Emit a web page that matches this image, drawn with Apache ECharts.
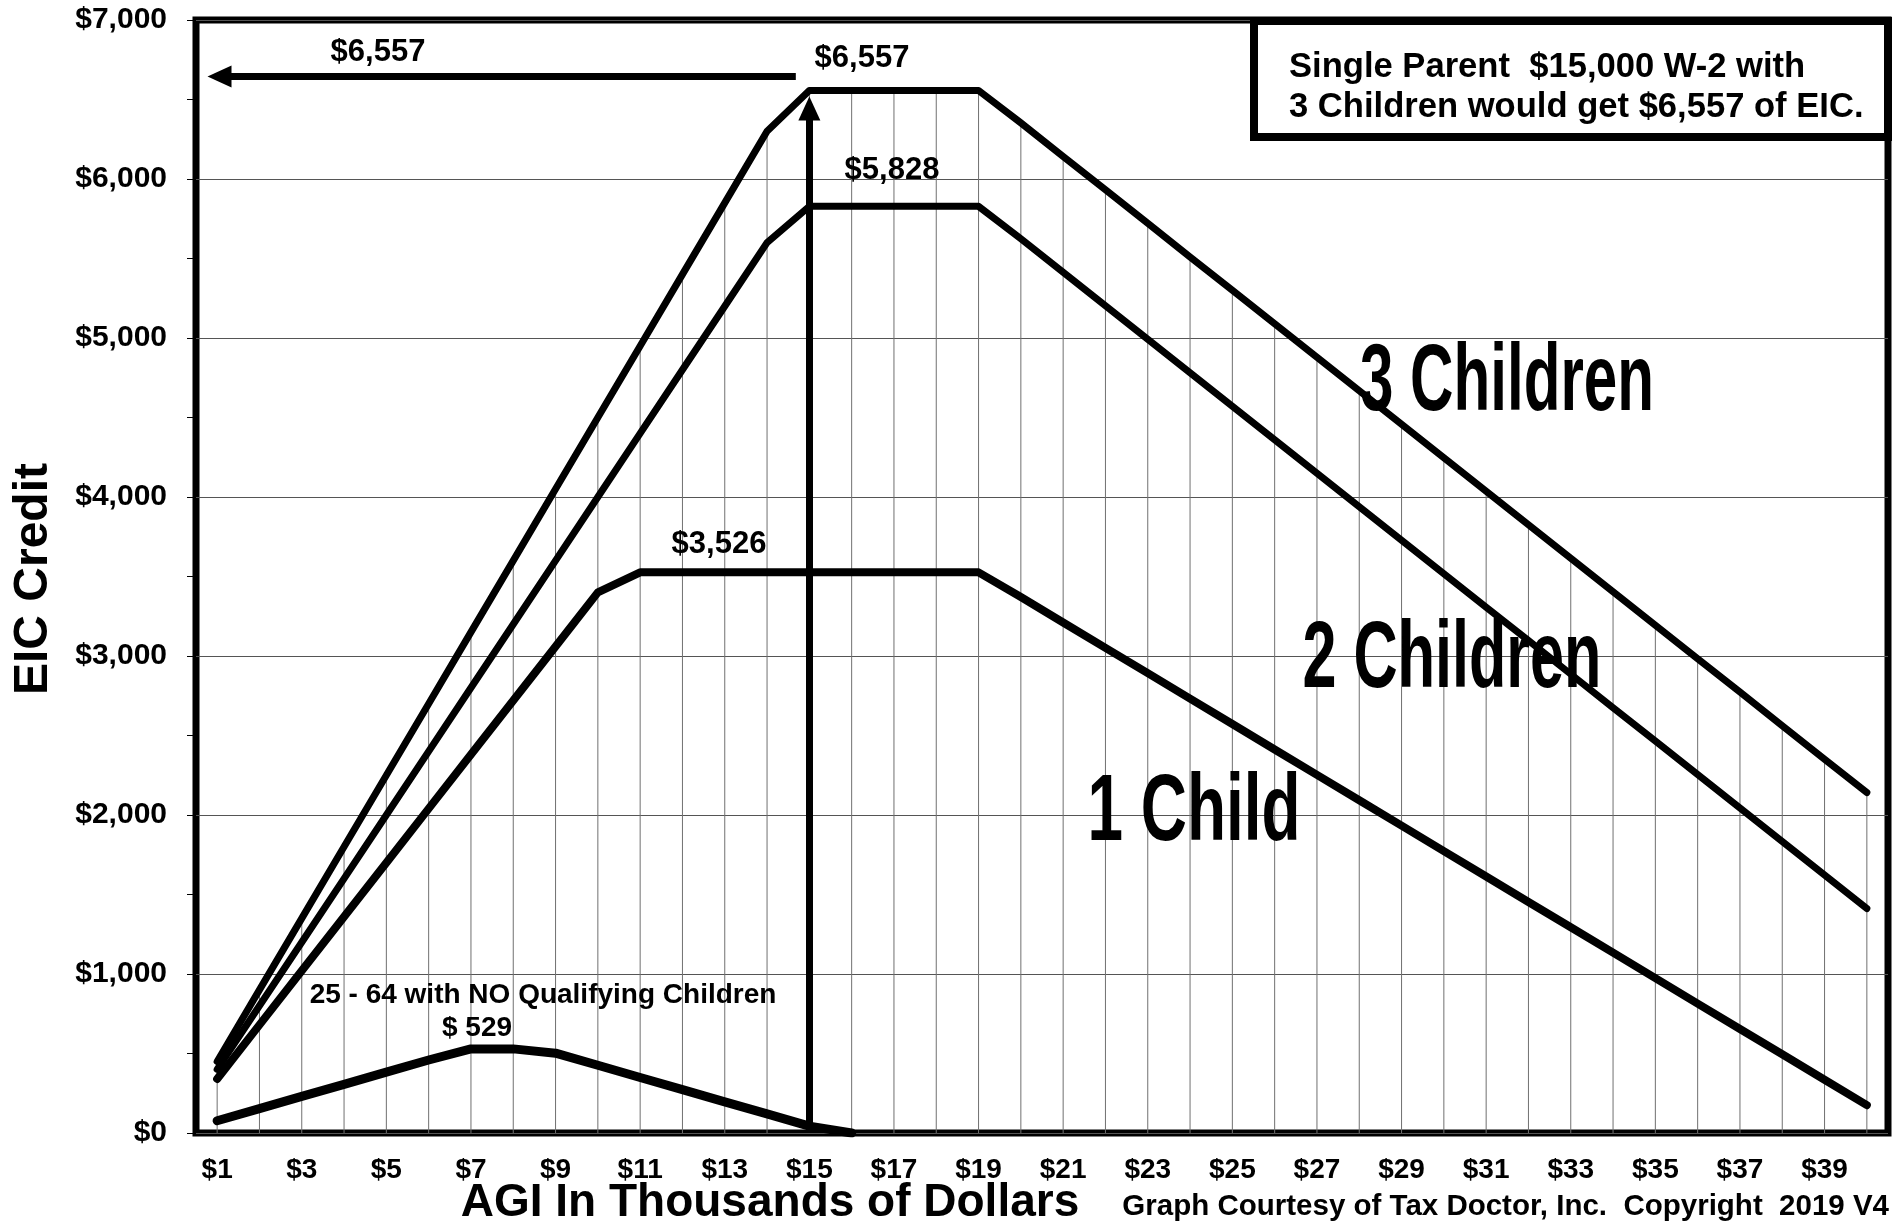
<!DOCTYPE html>
<html>
<head>
<meta charset="utf-8">
<title>EIC Credit</title>
<script src="https://cdn.jsdelivr.net/npm/echarts@6/dist/echarts.min.js"></script>
<style>
  html, body { margin: 0; padding: 0; background: #fff; }
  #eic { width: 1902px; height: 1221px; }
</style>
</head>
<body>
<div id="eic"></div>
<script>
// AGI in thousands of dollars
var agi = [1, 2, 3, 4, 5, 6, 7, 8, 9, 10, 11, 12, 13, 14, 15, 16, 17, 18, 19, 20,
  21, 22, 23, 24, 25, 26, 27, 28, 29, 30, 31, 32, 33, 34, 35, 36, 37, 38, 39, 40]
var xLabelValues = [1, 3, 5, 7, 9, 11, 13, 15, 17, 19, 21, 23, 25, 27, 29, 31, 33, 35, 37, 39]

// EIC credit per AGI point
var threeKids = [450, 900, 1350, 1800, 2250, 2700, 3150, 3600, 4050, 4500,
  4950, 5400, 5850, 6300, 6557, 6557, 6557, 6557, 6557, 6353,
  6142, 5932, 5721, 5510, 5300, 5089, 4879, 4668, 4457, 4247,
  4036, 3826, 3615, 3404, 3194, 2983, 2773, 2562, 2351, 2141]
var twoKids = [400, 800, 1200, 1600, 2000, 2400, 2800, 3200, 3600, 4000,
  4400, 4800, 5200, 5600, 5828, 5828, 5828, 5828, 5828, 5624,
  5413, 5203, 4992, 4781, 4571, 4360, 4150, 3939, 3728, 3518,
  3307, 3097, 2886, 2675, 2465, 2254, 2044, 1833, 1622, 1412]
var oneKid = [340, 680, 1020, 1360, 1700, 2040, 2380, 2720, 3060, 3400,
  3526, 3526, 3526, 3526, 3526, 3526, 3526, 3526, 3526, 3371,
  3211, 3051, 2892, 2732, 2572, 2412, 2252, 2093, 1933, 1773,
  1613, 1453, 1294, 1134, 974, 814, 654, 495, 335, 175]
var noKids = [77, 153, 230, 306, 383, 459, 529, 529, 502, 426,
  349, 273, 196, 120, 43, 0]

var FONT = 'Liberation Sans, Arial, sans-serif'

function pairs(arr) {
  var out = []
  arr.forEach(function (v, i) {
    out.push([agi[i], v])
  })
  return out
}

function txt(text, x, y, size, align, extra) {
  var el = {
    type: 'text',
    x: x,
    y: y,
    z: 100,
    style: {
      text: text,
      fill: '#000',
      font: 'bold ' + size + 'px ' + FONT,
      textAlign: align || 'center',
      textVerticalAlign: 'middle'
    }
  }
  if (extra) {
    for (var k in extra) el[k] = extra[k]
  }
  return el
}

var myChart = echarts.init(document.getElementById('eic'))

var lineBase = {
  type: 'line',
  showSymbol: false,
  symbol: 'none',
  silent: true
}

var option = {
  animation: false,
  backgroundColor: '#fff',
  grid: {
    left: 196,
    top: 20,
    right: 14,
    bottom: 88,
    show: true,
    borderColor: '#000',
    borderWidth: 7
  },
  xAxis: {
    type: 'value',
    min: 0.5,
    max: 40.5,
    axisLine: { show: false },
    axisTick: { show: false },
    splitLine: { show: false },
    axisLabel: {
      customValues: xLabelValues,
      formatter: function (v) { return '$' + v },
      color: '#000',
      fontWeight: 'bold',
      fontFamily: FONT,
      fontSize: 28,
      margin: 23
    }
  },
  yAxis: {
    type: 'value',
    min: 0,
    max: 7000,
    interval: 1000,
    axisLine: { show: false },
    axisTick: { show: true, length: 9, lineStyle: { color: '#000', width: 1 } },
    minorTick: { show: true, splitNumber: 2, length: 9, lineStyle: { color: '#000', width: 1 } },
    splitLine: { show: true, lineStyle: { color: '#555', width: 1 } },
    axisLabel: {
      formatter: function (v) { return '$' + v.toLocaleString('en-US') },
      color: '#000',
      fontWeight: 'bold',
      fontFamily: FONT,
      fontSize: 30,
      margin: 29
    }
  },
  series: [
    {
      // drop lines under the top curve
      type: 'bar',
      data: pairs(threeKids),
      barWidth: 1,
      silent: true,
      itemStyle: { color: '#707070' },
      z: 1
    },
    Object.assign({}, lineBase, {
      name: '3 Children',
      data: pairs(threeKids),
      lineStyle: { color: '#000', width: 7, cap: 'round', join: 'round' },
      markLine: {
        silent: true,
        symbol: ['none', 'triangle'],
        symbolSize: [22, 24],
        label: { show: false },
        lineStyle: { color: '#000', width: 7, type: 'solid' },
        data: [
          [{ coord: [15, 0] }, { coord: [15, 6443] }],
          [{ coord: [14.68, 6645] }, { coord: [1.056, 6645] }]
        ]
      }
    }),
    Object.assign({}, lineBase, {
      name: '2 Children',
      data: pairs(twoKids),
      lineStyle: { color: '#000', width: 7, cap: 'round', join: 'round' }
    }),
    Object.assign({}, lineBase, {
      name: '1 Child',
      data: pairs(oneKid),
      lineStyle: { color: '#000', width: 8, cap: 'round', join: 'round' }
    }),
    Object.assign({}, lineBase, {
      name: 'No Children',
      data: pairs(noKids),
      lineStyle: { color: '#000', width: 9, cap: 'round', join: 'round' }
    })
  ],
  graphic: [
    txt('$6,557', 378, 52, 31),
    txt('$6,557', 862, 58, 31),
    txt('$5,828', 892, 170, 31),
    txt('$3,526', 719, 544, 31),
    txt('25 - 64 with NO Qualifying Children', 543, 995, 28),
    txt('$ 529', 477, 1028, 28),
    txt('3 Children', 1507, 384, 94, null, { scaleX: 0.64 }),
    txt('2 Children', 1452, 661, 94, null, { scaleX: 0.65 }),
    txt('1 Child', 1194, 814, 94, null, { scaleX: 0.68 }),
    {
      type: 'rect',
      z: 99,
      shape: { x: 1254, y: 21, width: 634, height: 116 },
      style: { fill: '#fff', stroke: '#000', lineWidth: 8 }
    },
    txt('Single Parent  $15,000 W-2 with', 1289, 67, 34.6, 'left'),
    txt('3 Children would get $6,557 of EIC.', 1289, 107, 34.6, 'left'),
    txt('EIC Credit', 34, 579, 48, null, { rotation: Math.PI / 2 }),
    txt('AGI In Thousands of Dollars', 770, 1203, 46),
    txt('Graph Courtesy of Tax Doctor, Inc.  Copyright  2019 V4', 1889, 1207, 29.5, 'right')
  ]
}

myChart.setOption(option)
window.addEventListener('resize', function () {
  myChart.resize()
})
</script>
</body>
</html>
